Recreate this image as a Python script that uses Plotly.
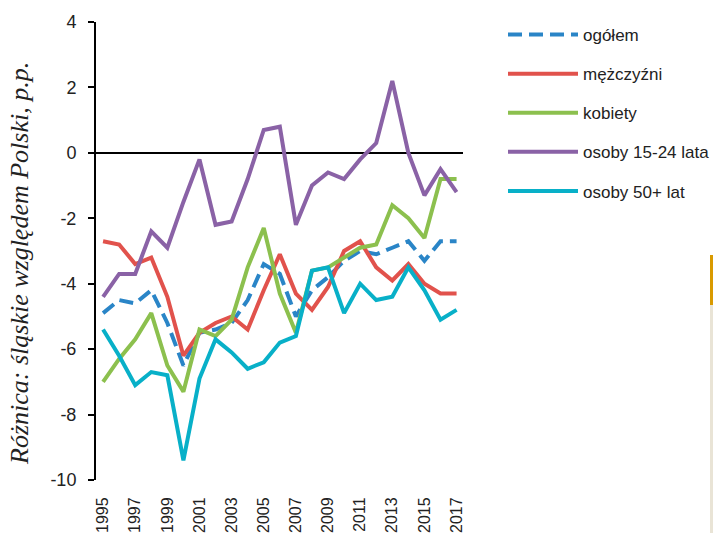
import plotly.graph_objects as go

# lata
years = list(range(1995, 2018))

# różnica: śląskie względem Polski, p.p.
ogolem = [-4.9, -4.5, -4.6, -4.2, -5.2, -6.5, -5.5, -5.4, -5.2, -4.5, -3.4, -3.7,
          -5.0, -4.2, -3.8, -3.3, -3.0, -3.1, -2.9, -2.7, -3.3, -2.7, -2.7]
mezczyzni = [-2.7, -2.8, -3.4, -3.2, -4.4, -6.2, -5.5, -5.2, -5.0, -5.4, -4.2, -3.1,
             -4.3, -4.8, -4.1, -3.0, -2.7, -3.5, -3.9, -3.4, -4.0, -4.3, -4.3]
kobiety = [-7.0, -6.3, -5.7, -4.9, -6.5, -7.3, -5.4, -5.6, -5.1, -3.5, -2.3, -4.3,
           -5.5, -3.6, -3.5, -3.2, -2.9, -2.8, -1.6, -2.0, -2.6, -0.8, -0.8]
osoby_15_24 = [-4.4, -3.7, -3.7, -2.4, -2.9, -1.5, -0.2, -2.2, -2.1, -0.8, 0.7, 0.8,
               -2.2, -1.0, -0.6, -0.8, -0.2, 0.3, 2.2, 0.0, -1.3, -0.5, -1.2]
osoby_50 = [-5.4, -6.2, -7.1, -6.7, -6.8, -9.4, -6.9, -5.7, -6.1, -6.6, -6.4, -5.8,
            -5.6, -3.6, -3.5, -4.9, -4.0, -4.5, -4.4, -3.5, -4.2, -5.1, -4.8]

x_ticks = list(range(1995, 2018, 2))
y_ticks = list(range(-10, 5, 2))
y_ticktext = [str(t) for t in y_ticks]  # zwykły łącznik zamiast minusa

series = [
    ('ogółem', ogolem, '#2A85C7', '14px,7px'),
    ('mężczyźni', mezczyzni, '#E1524C', 'solid'),
    ('kobiety', kobiety, '#8CC04E', 'solid'),
    ('osoby 15-24 lata', osoby_15_24, '#8A62A6', 'solid'),
    ('osoby 50+ lat', osoby_50, '#08B0C8', 'solid'),
]

fig = go.Figure()
for name, values, color, dash in series:
    fig.add_trace(
        go.Scatter(
            x=years,
            y=values,
            mode='lines',
            name=name,
            legendgroup=name,
            line=dict(color=color, width=4, dash=dash),
        )
    )

W, H = 713, 533
L, R, T, B = 96, 250, 22, 53
pw = W - L - R
ph = H - T - B


def px_x(x):
    return (x - L) / pw


def px_y(y):
    return (H - B - y) / ph


fig.update_layout(
    width=W,
    height=H,
    margin=dict(l=L, r=R, t=T, b=B, autoexpand=False),
    paper_bgcolor='white',
    plot_bgcolor='white',
    font=dict(family='Liberation Sans, Arial, sans-serif', color='#222222'),
    showlegend=True,
    legend=dict(
        xref='container', yref='container',
        x=503 / W, y=1 - 17 / H,
        xanchor='left', yanchor='top',
        font=dict(size=17, family='Liberation Sans, Arial, sans-serif', color='#222222'),
        itemwidth=70,
        tracegroupgap=14,
        traceorder='grouped',
        bgcolor='rgba(0,0,0,0)',
    ),
    annotations=[
        dict(
            text='Różnica: śląskie względem Polski, p.p.',
            xref='paper', yref='paper',
            x=px_x(19), y=px_y(264),
            xanchor='center', yanchor='middle',
            textangle=-90, showarrow=False,
            font=dict(family='Liberation Serif, Times New Roman, serif', size=26,
                      color='#222222', style='italic'),
        )
    ],
    shapes=[
        # pasek przy prawej krawędzi
        dict(type='rect', xref='paper', yref='paper',
             x0=px_x(710), x1=px_x(713), y0=px_y(533), y1=px_y(305),
             fillcolor='#E9E4D6', line_width=0, layer='above'),
        dict(type='rect', xref='paper', yref='paper',
             x0=px_x(710), x1=px_x(713), y0=px_y(305), y1=px_y(255),
             fillcolor='#D99A00', line_width=0, layer='above'),
    ],
)

fig.update_xaxes(
    range=[1994.56, 2017.4],
    tickvals=x_ticks,
    ticktext=[str(t) for t in x_ticks],
    tickangle=-90,
    tickfont=dict(family='Liberation Sans Narrow, Arial Narrow, sans-serif', size=16, color='#222222'),
    showline=False,
    showgrid=False,
    zeroline=False,
    ticks='outside',
    ticklen=10,
    tickcolor='rgba(0,0,0,0)',
    automargin=False,
)

fig.update_yaxes(
    range=[-10, 4],
    tickvals=y_ticks,
    ticktext=y_ticktext,
    tickfont=dict(size=18, color='#222222'),
    showline=True,
    linecolor='black',
    linewidth=2,
    ticks='outside',
    ticklen=6,
    tickwidth=2,
    tickcolor='black',
    ticklabelstandoff=8,
    showgrid=False,
    zeroline=True,
    zerolinecolor='black',
    zerolinewidth=2,
    automargin=False,
)

# bez domyślnego marginesu strony, żeby wykres zaczynał się w rogu okna
fig.write_html("out.html", config={'displayModeBar': False},
               post_script="document.body.style.margin='0px';")
